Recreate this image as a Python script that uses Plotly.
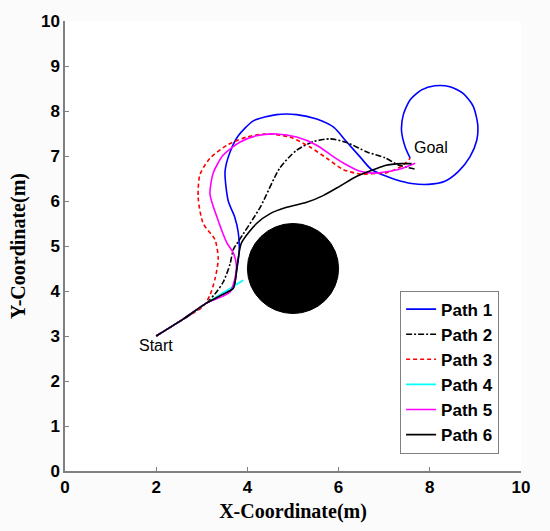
import plotly.graph_objects as go

# ---- data ----
p1_x = [2.0, 2.6, 3.1, 3.45, 3.69, 3.76, 3.82, 3.80, 3.72, 3.58, 3.51, 3.62, 3.80, 4.13, 4.64, 5.08, 5.52, 5.89, 6.18, 6.47, 6.72, 7.02, 7.24, 7.60, 7.97, 8.33, 8.63, 8.88, 9.03, 9.05, 8.95, 8.73, 8.44, 8.11, 7.82, 7.57, 7.42, 7.38, 7.46, 7.57]
p1_y = [3.0, 3.38, 3.73, 3.92, 4.06, 4.42, 4.9, 5.3, 5.65, 6.0, 6.66, 7.09, 7.45, 7.78, 7.92, 7.92, 7.82, 7.64, 7.31, 6.98, 6.70, 6.56, 6.48, 6.39, 6.37, 6.44, 6.66, 6.98, 7.35, 7.71, 8.11, 8.39, 8.54, 8.56, 8.47, 8.25, 7.92, 7.56, 7.20, 6.95]

p2_x = [2.0, 2.6, 3.1, 3.3, 3.47, 3.62, 3.69, 3.80, 4.28, 4.71, 5.08, 5.45, 5.81, 6.18, 6.62, 7.02, 7.31, 7.71]
p2_y = [3.0, 3.38, 3.73, 3.95, 4.2, 4.6, 4.92, 5.1, 5.86, 6.73, 7.13, 7.32, 7.38, 7.30, 7.09, 6.96, 6.80, 6.70]

p3_x = [2.0, 2.6, 3.03, 3.18, 3.29, 3.36, 3.29, 3.03, 2.92, 2.96, 3.18, 3.55, 3.98, 4.42, 4.93, 5.37, 5.74, 6.10, 6.47, 6.91, 7.02, 7.38, 7.57]
p3_y = [3.0, 3.38, 3.66, 3.91, 4.27, 4.71, 5.14, 5.50, 6.08, 6.59, 6.95, 7.24, 7.42, 7.49, 7.42, 7.20, 6.95, 6.70, 6.60, 6.62, 6.62, 6.77, 6.95]

p4_x = [2.0, 2.6, 3.1, 3.5, 3.91]
p4_y = [3.0, 3.38, 3.73, 3.98, 4.24]

p5_x = [2.0, 2.6, 3.1, 3.45, 3.62, 3.72, 3.76, 3.69, 3.55, 3.33, 3.18, 3.25, 3.47, 3.84, 4.20, 4.64, 5.08, 5.52, 5.89, 6.18, 6.47, 6.80, 7.31, 7.68]
p5_y = [3.0, 3.38, 3.73, 3.88, 3.98, 4.25, 4.56, 4.85, 5.07, 5.65, 6.15, 6.62, 7.02, 7.31, 7.45, 7.49, 7.42, 7.24, 6.98, 6.80, 6.66, 6.62, 6.70, 6.84]

p6_x = [2.0, 2.6, 3.1, 3.45, 3.69, 3.78, 3.87, 4.20, 4.50, 4.86, 5.30, 5.66, 6.03, 6.40, 6.91, 7.02, 7.38, 7.60]
p6_y = [3.0, 3.38, 3.73, 3.92, 4.06, 4.6, 5.07, 5.50, 5.72, 5.86, 5.97, 6.12, 6.33, 6.55, 6.75, 6.79, 6.83, 6.83]

path_names = ["Path 1", "Path 2", "Path 3", "Path 4", "Path 5", "Path 6"]
path_colors = ["#0000ff", "#000000", "#ff0000", "#00ffff", "#ff00ff", "#000000"]
path_dashes = ["solid", "6px,2px,2px,2px", "4px,3px", "solid", "solid", "solid"]

obstacle_cx, obstacle_cy, obstacle_r = 5.0, 4.5, 1.0
start_xy = (2.0, 2.78)
goal_xy = (8.03, 7.18)

xs = [p1_x, p2_x, p3_x, p4_x, p5_x, p6_x]
ys = [p1_y, p2_y, p3_y, p4_y, p5_y, p6_y]

fig = go.Figure()
for x, y, n, c, d in zip(xs, ys, path_names, path_colors, path_dashes):
    fig.add_trace(go.Scatter(x=x, y=y, mode="lines", name=n,
                             line=dict(color=c, width=1.6, dash=d, shape="spline", smoothing=0.7)))

fig.add_shape(type="circle", xref="x", yref="y",
              x0=obstacle_cx - obstacle_r, x1=obstacle_cx + obstacle_r,
              y0=obstacle_cy - obstacle_r, y1=obstacle_cy + obstacle_r,
              fillcolor="black", line=dict(color="black", width=1), layer="above")

fig.add_annotation(x=start_xy[0], y=start_xy[1], text="Start", showarrow=False,
                   font=dict(family="Liberation Sans, Arial", size=16, color="black"))
fig.add_annotation(x=goal_xy[0], y=goal_xy[1], text="Goal", showarrow=False,
                   font=dict(family="Liberation Sans, Arial", size=16, color="black"))

axis_common = dict(showgrid=False, zeroline=False, showline=True, linecolor="#808080",
                   linewidth=1.5, ticks="inside", ticklen=4, tickcolor="#808080",
                   tickfont=dict(family="Liberation Sans, Arial", size=17, color="black", weight="bold"),
                   mirror=False)

fig.update_layout(
    width=550, height=531,
    margin=dict(l=65, r=29, t=16, b=54),
    paper_bgcolor="#fbfbfb", plot_bgcolor="white",
    xaxis=dict(range=[0, 10], dtick=2, tick0=0,
               title=dict(text="X-Coordinate(m)", standoff=8,
                          font=dict(family="Liberation Serif, Times New Roman", size=20, color="black", weight="bold")),
               **axis_common),
    yaxis=dict(range=[0, 10], dtick=1, tick0=0,
               title=dict(text="Y-Coordinate(m)", standoff=10,
                          font=dict(family="Liberation Serif, Times New Roman", size=20, color="black", weight="bold")),
               **axis_common),
    legend=dict(x=0.952, y=0.401, xanchor="right", yanchor="top",
                bgcolor="white", bordercolor="#808080", borderwidth=1,
                font=dict(family="Liberation Sans, Arial", size=17, color="black", weight="bold"),
                tracegroupgap=0),
    showlegend=True,
)

fig.write_html("out.html")
